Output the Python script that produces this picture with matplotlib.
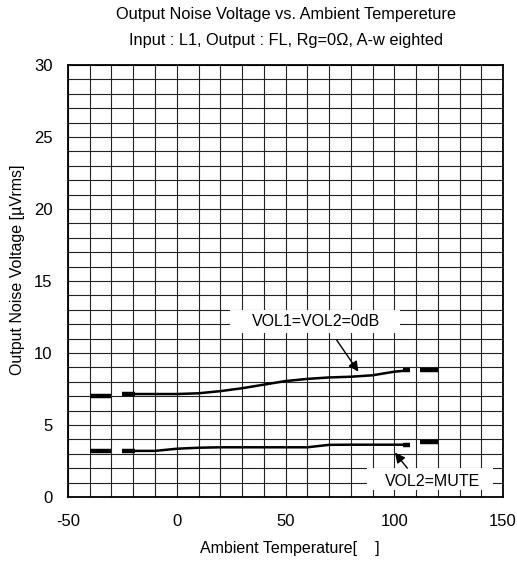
#!/usr/bin/env python3

from matplotlib import pyplot as plt
from matplotlib.patches import Rectangle
from matplotlib.ticker import MultipleLocator

plt.rcParams['font.family'] = ['Liberation Sans', 'DejaVu Sans']
plt.rcParams['axes.unicode_minus'] = False

# main curves (measured from -25 to 107 degC)
temp = [-25, -10, 0, 10, 20, 30, 40, 50, 60, 70, 80, 90, 100, 107]
vol_0db = [7.15, 7.15, 7.15, 7.2, 7.35, 7.55, 7.8, 8.05, 8.2, 8.3, 8.35, 8.45, 8.7, 8.8]
vol_mute = [3.2, 3.2, 3.35, 3.42, 3.45, 3.45, 3.45, 3.45, 3.45, 3.62, 3.63, 3.63, 3.63, 3.63]

# short limit marks at both ends
mark_left = [-40, -30]
mark_right = [112, 120]
mark_0db = [7.03, 8.82]
mark_mute = [3.2, 3.8]


def main():
    fig = plt.figure(figsize=(5.17, 5.65), dpi=100)
    ax = fig.add_axes([0.1315, 0.1204, 0.8415, 0.7646])

    ax.set_xlim(-50, 150)
    ax.set_ylim(0, 30)
    ax.xaxis.set_major_locator(MultipleLocator(50))
    ax.xaxis.set_minor_locator(MultipleLocator(10))
    ax.yaxis.set_major_locator(MultipleLocator(5))
    ax.yaxis.set_minor_locator(MultipleLocator(1))
    ax.grid(True, which='both', color='#222222', lw=0.8)
    ax.set_axisbelow(True)
    ax.tick_params(which='both', direction='in', length=0, labelsize=12)
    ax.tick_params(axis='y', pad=11)
    ax.tick_params(axis='x', pad=12)
    for s in ax.spines.values():
        s.set_linewidth(1.3)

    thick = dict(color='black', lw=3.2, solid_capstyle='butt')
    for ys in (vol_0db, vol_mute):
        ax.plot(temp, ys, color='black', lw=1.8, solid_capstyle='butt')
        ax.plot([temp[0], temp[0] + 6], [ys[0], ys[0]], **thick)
        ax.plot([temp[-1] - 3, temp[-1]], [ys[-1], ys[-1]], **thick)
    for ys in (mark_0db, mark_mute):
        ax.plot(mark_left, [ys[0], ys[0]], **thick)
        ax.plot(mark_right, [ys[1], ys[1]], **thick)

    ax.add_patch(Rectangle((24.5, 11.4), 78, 1.6, facecolor='white',
                           edgecolor='none', zorder=3))
    ax.text(64, 12.2, 'VOL1=VOL2=0dB', fontsize=11.5, ha='center',
            va='center', zorder=4)
    ax.annotate('', xy=(83.5, 8.7), xytext=(73.5, 10.9),
                arrowprops=dict(arrowstyle='-|>', color='black', lw=1,
                                mutation_scale=15, shrinkA=0, shrinkB=0))
    ax.add_patch(Rectangle((87.5, 0.5), 58, 1.5, facecolor='white',
                           edgecolor='none', zorder=3))
    ax.text(117.4, 1.1, 'VOL2=MUTE', fontsize=11.5, ha='center',
            va='center', zorder=4)
    ax.annotate('', xy=(100.3, 3.08), xytext=(106, 2.0),
                arrowprops=dict(arrowstyle='-|>', color='black', lw=1,
                                mutation_scale=15, shrinkA=0, shrinkB=0))

    fig.text(0.553, 0.975, 'Output Noise Voltage vs. Ambient Tempereture',
             ha='center', va='center', fontsize=11.8)
    fig.text(0.553, 0.929, 'Input : L1, Output : FL, Rg=0Ω, A-w eighted',
             ha='center', va='center', fontsize=11.8)
    fig.text(0.561, 0.030, 'Ambient Temperature[    ]', ha='center',
             va='center', fontsize=11.5)
    fig.text(0.033, 1 - 270 / 565, 'Output Noise Voltage [µVrms]',
             ha='center', va='center', rotation=90, fontsize=11.5)

    fig.savefig('out.png', dpi=100)


if __name__ == '__main__':
    main()
